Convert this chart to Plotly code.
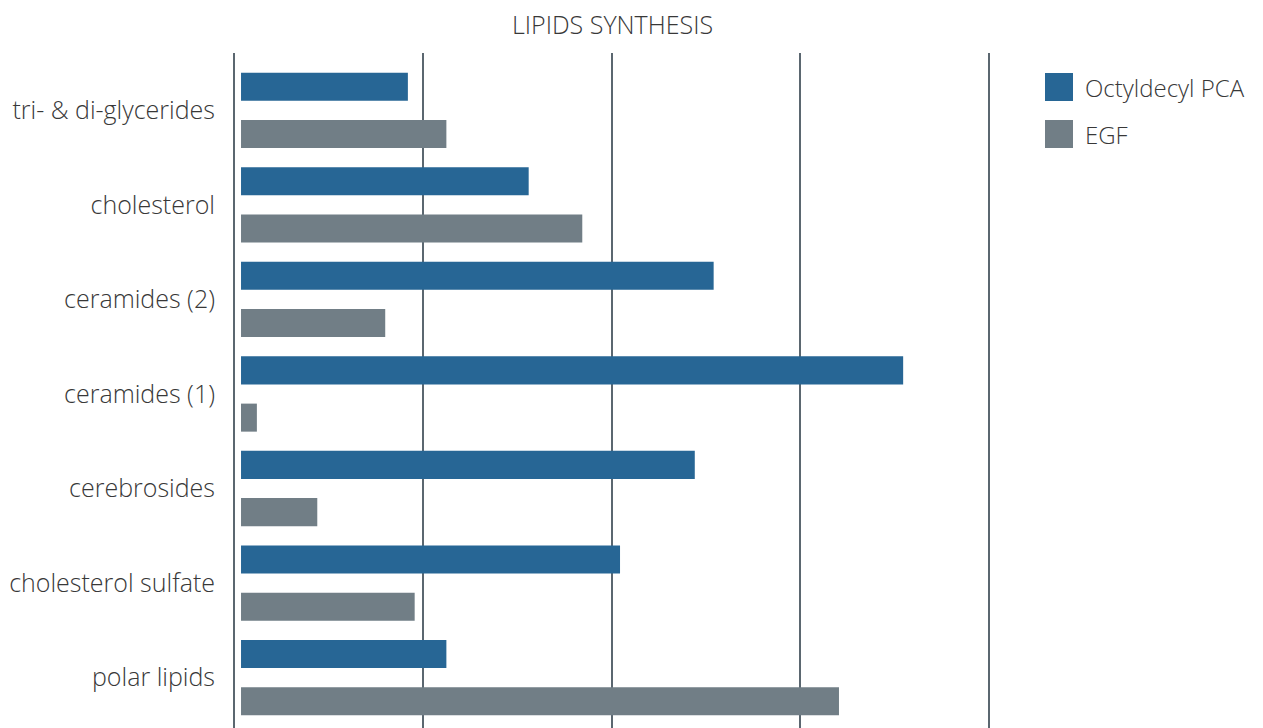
import plotly.graph_objects as go

categories = ["tri- & di-glycerides", "cholesterol", "ceramides (2)", "ceramides (1)",
              "cerebrosides", "cholesterol sulfate", "polar lipids"]
octyldecyl_pca = [22.1, 38.1, 62.6, 87.7, 60.1, 50.2, 27.2]
egf = [27.2, 45.2, 19.1, 2.1, 10.1, 23.0, 79.2]
series_names = ["Octyldecyl PCA", "EGF"]
x_ticks = [0, 25, 50, 75, 100]
title_text = "LIPIDS SYNTHESIS"

BLUE = "#276695"
GRAY = "#717e86"
TEXT = "#383838"
GRID = "#5b6770"
FONT = "Open Sans"
WEIGHT = 350
BASE = 0.93  # small visual offset of bar start from the axis line
colors = [BLUE, GRAY]
series_values = [octyldecyl_pca, egf]

W, H = 1263, 728
ML, MR, MT, MB = 230, 267, 53, 0
PW = W - ML - MR
PH = H - MT - MB

fig = go.Figure()
for name, vals, col in zip(series_names, series_values, colors):
    fig.add_trace(go.Bar(y=categories, x=vals, base=BASE, orientation="h",
                         name=name, showlegend=False, hoverinfo="skip",
                         marker=dict(color=col, line=dict(width=0))))

# legend drawn as swatches + labels (large square swatches as in the reference)
for i, (name, col) in enumerate(zip(series_names, colors)):
    top = 73 + i * 47
    fig.add_shape(type="rect", xref="paper", yref="paper",
                  x0=(1045 - ML) / PW, x1=(1073 - ML) / PW,
                  y0=(H - (top + 28)) / PH, y1=(H - top) / PH,
                  fillcolor=col, line=dict(width=0), layer="above")
    fig.add_annotation(text=name, xref="paper", yref="paper",
                       x=(1083 - ML) / PW, y=(H - (top + 14)) / PH,
                       xanchor="left", yanchor="middle", showarrow=False,
                       font=dict(family=FONT, size=24, color=TEXT, weight=WEIGHT))

fig.update_layout(
    width=W, height=H,
    margin=dict(l=ML, r=MR, t=MT, b=MB, pad=0),
    paper_bgcolor="white", plot_bgcolor="white",
    barmode="group", bargap=0, bargroupgap=0.407,
    font=dict(family=FONT, size=24, color=TEXT, weight=WEIGHT),
    title=dict(text=title_text, x=(612.5 - ML) / PW, xref="paper", y=1 - 25 / H, yref="container",
               xanchor="center", yanchor="middle",
               font=dict(family=FONT, size=25, color=TEXT, weight=WEIGHT)),
    showlegend=False,
    xaxis=dict(range=[-0.530, 100.927], tickvals=x_ticks, showticklabels=False,
               showgrid=True, gridcolor=GRID, gridwidth=2,
               zeroline=True, zerolinecolor=GRID, zerolinewidth=2,
               showline=False, ticks=""),
    yaxis=dict(type="category", categoryorder="array", categoryarray=categories,
               range=[6.534, -0.608], showgrid=False, zeroline=False, showline=False,
               ticks="", ticklabelstandoff=14,
               tickfont=dict(family=FONT, size=25, color=TEXT, weight=WEIGHT)),
)

fig.write_html("out.html", config={"displayModeBar": False},
               post_script="document.body.style.margin='0';")
